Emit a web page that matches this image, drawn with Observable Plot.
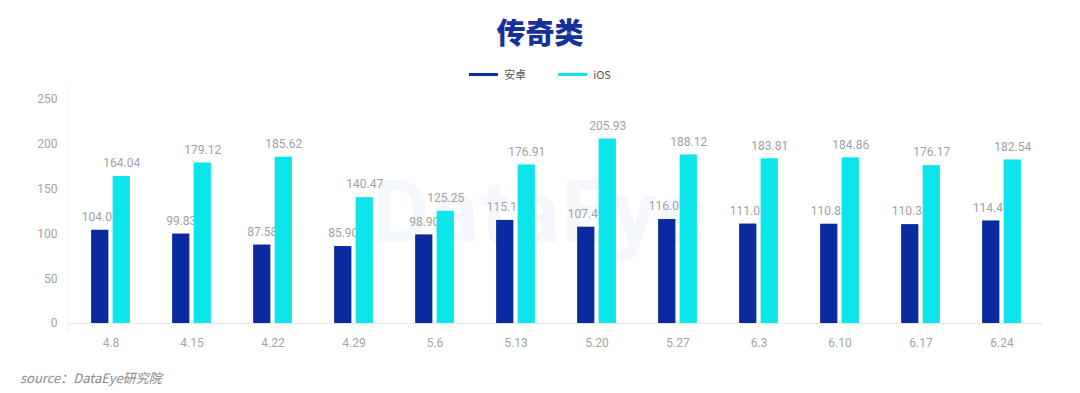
<!DOCTYPE html>
<html>
<head>
<meta charset="utf-8">
<script src="https://cdn.jsdelivr.net/npm/d3@7"></script>
<script src="https://cdn.jsdelivr.net/npm/@observablehq/plot@0.6"></script>
<style>
  html, body { margin: 0; padding: 0; background: #fff; }
  #wrap { position: relative; width: 1080px; height: 393px; overflow: hidden; background: #fff; font-family: Roboto, "Noto Sans CJK SC", sans-serif; }
  #title { position: absolute; top: 11px; left: 0; width: 1080px; text-align: center; font-family: "Noto Sans CJK SC", sans-serif; font-weight: 900; font-size: 29px; line-height: 40px; color: #15309c; }
  #legend { position: absolute; top: 66px; left: 0; width: 1080px; display: flex; justify-content: center; align-items: center; font-family: "Noto Sans CJK SC", sans-serif; font-size: 11px; color: #555; }
  .item { display: flex; align-items: center; margin: 0 16px; }
  .sw { width: 29px; height: 3px; margin-right: 6px; }
  #watermark { position: absolute; top: 160px; left: 0; width: 1080px; text-align: center; font-family: Roboto, sans-serif; font-weight: 700; font-size: 88px; color: #f4f7fc; letter-spacing: 2px; }
  #chart { position: absolute; top: 80px; left: 0; }
  #source { position: absolute; top: 368px; left: 20px; font-family: "Noto Sans CJK SC", sans-serif; font-style: italic; font-size: 13px; color: #8a8a8a; }
</style>
</head>
<body>
<div id="wrap">
  <div id="watermark">DataEye</div>
  <div id="title"></div>
  <div id="legend"></div>
  <div id="chart"></div>
  <div id="source"></div>
</div>
<script>
const titleText = "传奇类";
const sourceText = "source：DataEye研究院";
const dates = ["4.8", "4.15", "4.22", "4.29", "5.6", "5.13", "5.20", "5.27", "6.3", "6.10", "6.17", "6.24"];
const seriesNames = ["安卓", "iOS"];
const android = [104.07, 99.83, 87.58, 85.90, 98.90, 115.11, 107.49, 116.05, 111.01, 110.82, 110.35, 114.47];
const ios = [164.04, 179.12, 185.62, 140.47, 125.25, 176.91, 205.93, 188.12, 183.81, 184.86, 176.17, 182.54];
const yTicks = [0, 50, 100, 150, 200, 250];
const colors = ["#0a2a9f", "#0ae6ea"];

document.getElementById("title").textContent = titleText;
document.getElementById("source").textContent = sourceText;
const legend = document.getElementById("legend");
seriesNames.forEach((s, i) => {
  const it = document.createElement("div");
  it.className = "item";
  const sw = document.createElement("div");
  sw.className = "sw";
  sw.style.background = colors[i];
  const t = document.createElement("span");
  t.textContent = s;
  it.appendChild(sw); it.appendChild(t);
  legend.appendChild(it);
});

const dataA = dates.map((d, i) => ({date: d, value: android[i]}));
const dataI = dates.map((d, i) => ({date: d, value: ios[i]}));
const fmt = d3.format(".2f");

const W = 1080, H = 280, mL = 68, mR = 37, mT = 19, mB = 37;
const band = (W - mL - mR) / dates.length;
const barW = 17.5, gap = 4;
const innerA = band / 2 - gap / 2 - barW; // left inset of android
const offA = -(gap / 2 + barW / 2);
const offI = (gap / 2 + barW / 2);

const chart = Plot.plot({
  width: W, height: H,
  marginLeft: mL, marginRight: mR, marginTop: mT, marginBottom: mB,
  style: {fontSize: "12px", color: "#a3a3a3", fontFamily: "Roboto, sans-serif", background: "transparent", overflow: "visible"},
  x: {domain: dates, padding: 0, tickSize: 0, tickPadding: 15, label: null},
  y: {domain: [0, 250], ticks: yTicks, tickSize: 0, tickPadding: 11, label: null},
  marks: [
    Plot.ruleY([0], {stroke: "#e8e8e8", strokeWidth: 1}),
    Plot.barY(dataA, {x: "date", y: "value", fill: colors[0], insetLeft: innerA, insetRight: band - innerA - barW}),
    Plot.text(dataA, {x: "date", y: "value", text: d => fmt(d.value), dx: offA, dy: -13, fill: "#a0a0a0", fontSize: 12}),
    Plot.barY(dataI, {x: "date", y: "value", fill: colors[1], insetLeft: band - innerA - barW, insetRight: innerA}),
    Plot.text(dataI, {x: "date", y: "value", text: d => fmt(d.value), dx: offI, dy: -13, fill: "#a0a0a0", fontSize: 12})
  ]
});
document.getElementById("chart").appendChild(chart);

// y-axis line
const ys = chart.scale("y");
d3.select(chart).append("line")
  .attr("x1", mL).attr("x2", mL)
  .attr("y1", ys.apply(250) - 12).attr("y2", ys.apply(0) + 8)
  .attr("stroke", "#eeeeee");
</script>
</body>
</html>
